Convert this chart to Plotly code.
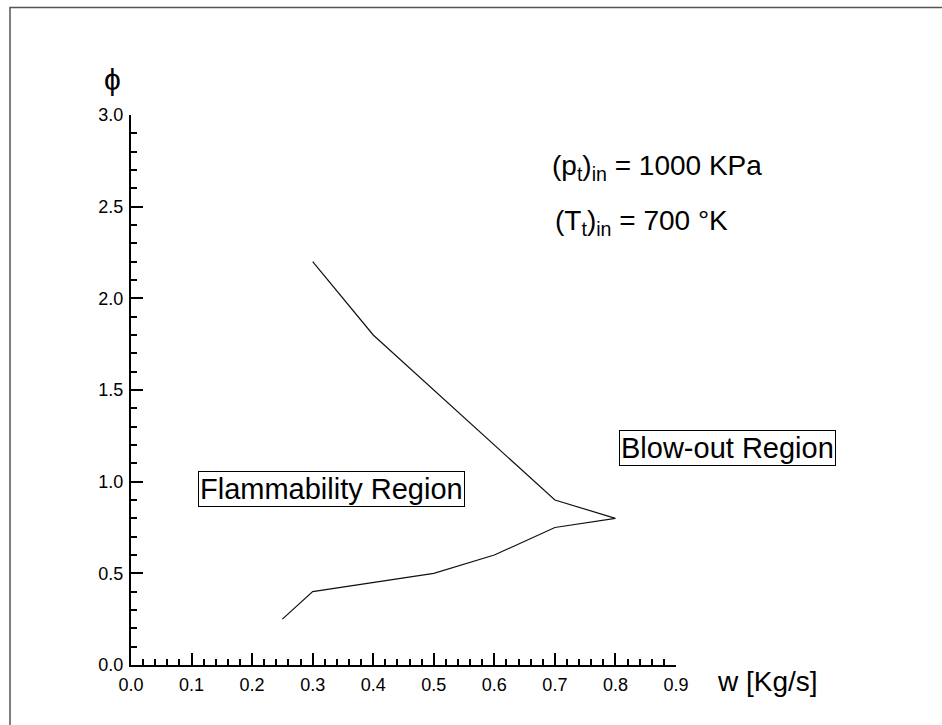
import plotly.graph_objects as go

# Data: blow-out boundary
w_flow = [0.25, 0.3, 0.5, 0.6, 0.7, 0.8, 0.7, 0.5, 0.4, 0.3]
phi = [0.25, 0.4, 0.5, 0.6, 0.75, 0.8, 0.9, 1.5, 1.8, 2.2]

x_range = [0, 0.9]
y_range = [0, 3.0]
x_ticks = [0.0, 0.1, 0.2, 0.3, 0.4, 0.5, 0.6, 0.7, 0.8, 0.9]
y_ticks = [0.0, 0.5, 1.0, 1.5, 2.0, 2.5, 3.0]

FONT = "Liberation Sans, Arial, sans-serif"
W, H = 942, 725
L, R, T, B = 131, 266, 115, 60
pw, ph = W - L - R, H - T - B

def px(x):
    return (x - L) / pw

def py(y):
    return (H - B - y) / ph

fig = go.Figure()
fig.add_trace(go.Scatter(x=w_flow, y=phi, mode="lines",
                         line=dict(color="#111111", width=1.2),
                         showlegend=False, hoverinfo="skip"))

axis_common = dict(showgrid=False, zeroline=False, showline=True,
                   linecolor="black", linewidth=2, ticks="inside",
                   tickcolor="black", tickwidth=1.5, ticklen=12,
                   tickfont=dict(family=FONT, size=18, color="black"),
                   tickformat=".1f", mirror=False, ticklabelstandoff=2)

fig.update_xaxes(range=x_range, tickvals=x_ticks, **axis_common,
                 minor=dict(ticks="inside", ticklen=6, dtick=0.02,
                            tickcolor="black", tickwidth=1.5, showgrid=False))
fig.update_yaxes(range=y_range, tickvals=y_ticks, **axis_common,
                 minor=dict(ticks="inside", ticklen=6, dtick=0.1,
                            tickcolor="black", tickwidth=1.5, showgrid=False))

big = dict(family=FONT, size=28, color="black")
box = dict(family=FONT, size=29, color="black")
ann = []
ann.append(dict(text="ϕ", x=px(112), y=py(79), xref="paper", yref="paper",
                showarrow=False, font=dict(family=FONT, size=30, color="black"),
                xanchor="center", yanchor="middle"))
ann.append(dict(text="w [Kg/s]", x=px(715), y=py(681), xref="paper", yref="paper",
                showarrow=False, font=big, xanchor="left", yanchor="middle"))
ann.append(dict(text="(p<sub>t</sub>)<sub>in</sub> = 1000 KPa", x=px(550), y=py(168),
                xref="paper", yref="paper", showarrow=False, font=big,
                xanchor="left", yanchor="middle"))
ann.append(dict(text="(T<sub>t</sub>)<sub>in</sub> = 700 °K", x=px(553), y=py(222),
                xref="paper", yref="paper", showarrow=False, font=big,
                xanchor="left", yanchor="middle"))
ann.append(dict(text="Flammability Region", x=px(331.5), y=py(489),
                xref="paper", yref="paper", showarrow=False, font=box,
                xanchor="center", yanchor="middle", bordercolor="black",
                borderwidth=1, borderpad=1, bgcolor="white"))
ann.append(dict(text="Blow-out Region", x=px(727.5), y=py(447.5),
                xref="paper", yref="paper", showarrow=False, font=box,
                xanchor="center", yanchor="middle", bordercolor="black",
                borderwidth=1, borderpad=1, bgcolor="white"))

fig.add_shape(type="rect", xref="paper", yref="paper",
              x0=px(10), x1=px(960), y0=py(740), y1=py(7.5),
              line=dict(color="#555555", width=1.5), fillcolor="rgba(0,0,0,0)")

fig.update_layout(width=W, height=H, autosize=False,
                  margin=dict(l=L, r=R, t=T, b=B),
                  paper_bgcolor="white", plot_bgcolor="white",
                  annotations=ann, showlegend=False)

fig.write_html("out.html")
